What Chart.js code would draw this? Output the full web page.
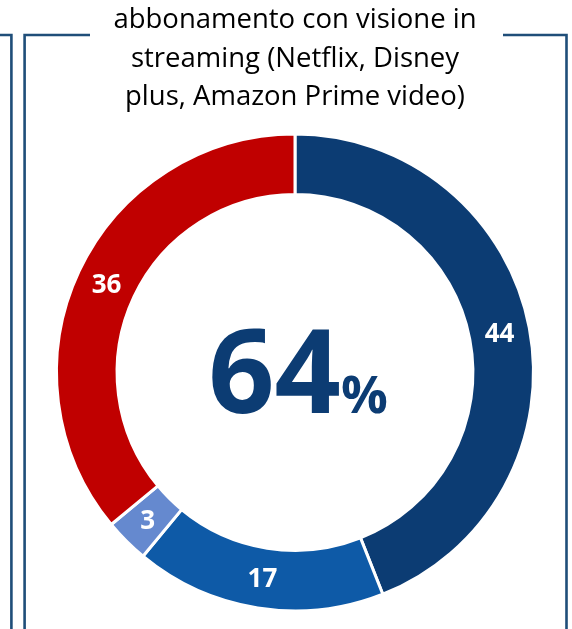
<!DOCTYPE html>
<html lang="it">
<head>
<meta charset="utf-8">
<title>Abbonamento streaming</title>
<script src="https://cdn.jsdelivr.net/npm/chart.js@4.4.1/dist/chart.umd.min.js"></script>
<style>
    html, body { margin: 0; padding: 0; background: #fff; }
    #wrap { width: 572px; height: 629px; }
</style>
</head>
<body>
<div id="wrap"><canvas id="streamingChart" width="572" height="629"></canvas></div>
<script>
// Quote di risposta (%) sull'abbonamento a piattaforme streaming
const titleLines = [
    'abbonamento con visione in',
    'streaming (Netflix, Disney',
    'plus, Amazon Prime video)'
];
const categories = ['Sì, abbonamento proprio', 'Sì, abbonamento condiviso', 'Sì, altro', 'No'];
const shares = [44, 17, 3, 36];
const sliceColors = ['#0C3C73', '#0E5AA7', '#6589CF', '#C00000'];

// le tre fette "Sì" formano il totale al centro
const yesTotal = shares.slice(0, 3).reduce((a, b) => a + b, 0);

const FONT = '"Open Sans", "Noto Sans", sans-serif';

// Cornice del pannello (con l'interruzione per il titolo) e bordo del pannello a fianco
const panelFrame = {
    id: 'panelFrame',
    beforeDraw(chart) {
        const c = chart.ctx;
        const h = chart.height;
        c.save();
        c.strokeStyle = '#1F4E79';
        c.lineWidth = 2.6;
        c.beginPath();
        c.moveTo(0, 35); c.lineTo(11.4, 35); c.lineTo(11.4, h);
        c.moveTo(90, 35); c.lineTo(24.6, 35); c.lineTo(24.6, h);
        c.moveTo(503, 35); c.lineTo(566.5, 35); c.lineTo(566.5, h);
        c.stroke();
        c.restore();
    }
};

// Valori scritti al centro di ogni fetta
const sliceLabels = {
    id: 'sliceLabels',
    afterDatasetsDraw(chart) {
        const c = chart.ctx;
        const meta = chart.getDatasetMeta(0);
        c.save();
        c.fillStyle = '#fff';
        c.font = 'bold 26px ' + FONT;
        c.textAlign = 'center';
        c.textBaseline = 'middle';
        meta.data.forEach((arc, i) => {
            const p = arc.tooltipPosition();
            c.fillText(String(shares[i]), p.x, p.y + 1.5);
        });
        c.restore();
    }
};

// Percentuale grande nel foro della ciambella
const centerTotal = {
    id: 'centerTotal',
    afterDraw(chart) {
        const arc = chart.getDatasetMeta(0).data[0];
        const c = chart.ctx;
        const num = String(yesTotal);
        const bigFont = 'bold 116px ' + FONT;
        const smallFont = 'bold 52px ' + FONT;
        c.save();
        c.fillStyle = '#0C3C73';
        c.textAlign = 'left';
        c.textBaseline = 'alphabetic';
        c.font = bigFont;
        const wNum = c.measureText(num).width;
        c.font = smallFont;
        const wPct = c.measureText('%').width;
        const left = arc.x - (wNum + wPct) / 2 + 3;
        const base = arc.y + 40;
        c.font = bigFont;
        c.fillText(num, left, base);
        c.font = smallFont;
        c.fillText('%', left + wNum, base);
        c.restore();
    }
};

new Chart(document.getElementById('streamingChart'), {
    type: 'doughnut',
    data: {
        labels: categories,
        datasets: [{
            data: shares,
            backgroundColor: sliceColors,
            borderColor: '#fff',
            borderWidth: 3,
            hoverOffset: 0
        }]
    },
    options: {
        responsive: false,
        animation: false,
        radius: 238.5,
        cutout: '74.6%',
        layout: { padding: { top: 1, left: 40, right: 22, bottom: 10.5 } },
        plugins: {
            legend: { display: false },
            tooltip: { enabled: false },
            title: {
                display: true,
                text: titleLines,
                color: '#000',
                font: { family: FONT, size: 27.5, weight: 'normal', lineHeight: 1.4 },
                padding: { top: 0, bottom: 10 }
            }
        }
    },
    plugins: [panelFrame, sliceLabels, centerTotal]
});
</script>
</body>
</html>
